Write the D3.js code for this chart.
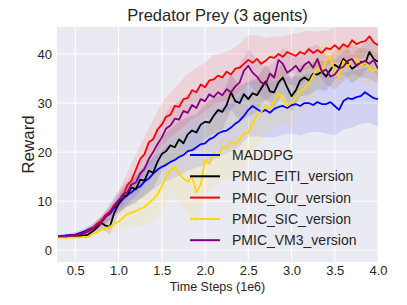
<!DOCTYPE html>
<html>
<head>
<meta charset="utf-8">
<script src="https://cdn.jsdelivr.net/npm/d3@7"></script>
<style>
body { margin: 0; background: #fff; }
text { font-family: "Liberation Sans", Arial, sans-serif; fill: #262626; }
</style>
</head>
<body>
<div id="chart"></div>
<script>
// series, in legend order
var names = ['MADDPG', 'PMIC_EITI_version', 'PMIC_Our_version', 'PMIC_SIC_version', 'PMIC_VM3_version'];
var colors = ['#0000ff', '#000000', '#ff0000', '#ffd700', '#800080'];

// x grid: 0.30 .. 4.00 every 0.05 (1e6 steps)
var timeSteps = d3.range(75).map(function (i) { return +(0.3 + 0.05 * i).toFixed(2); });
var xTicks = [0.5, 1.0, 1.5, 2.0, 2.5, 3.0, 3.5, 4.0];
var yTicks = [0, 10, 20, 30, 40];

var maddpg = [2.8, 2.9, 3.0, 3.1, 3.2, 3.5, 3.8, 4.2, 4.6, 5.2, 5.8, 6.8, 7.4, 8.6, 9.4,
    10.4, 11.2, 11.8, 12.6, 13.0, 14.0, 14.6, 15.6, 16.4, 17.0, 17.4, 18.0, 18.4, 19.0, 19.4,
    20.2, 20.4, 21.0, 21.6, 21.8, 22.6, 23.0, 23.8, 24.2, 24.4, 25.0, 25.8, 26.4, 27.4, 28.6,
    29.4, 28.8, 28.2, 28.6, 28.0, 28.8, 29.2, 29.4, 29.0, 29.6, 29.8, 29.4, 30.0, 30.0, 29.6,
    30.2, 29.8, 29.8, 30.2, 29.4, 28.6, 30.4, 31.0, 30.8, 31.2, 31.4, 32.2, 31.6, 31.0, 30.8];
var eiti = [2.8, 2.8, 2.9, 2.8, 2.9, 2.9, 3.0, 3.2, 3.8, 4.6, 5.6, 5.0, 4.8, 7.6, 9.4,
    11.0, 11.2, 12.8, 12.4, 14.4, 14.2, 16.2, 15.8, 18.0, 19.6, 20.2, 21.4, 21.0, 22.6, 21.8,
    23.6, 24.4, 24.0, 25.6, 26.2, 26.0, 27.4, 28.6, 28.2, 29.6, 32.2, 30.4, 30.0, 31.8, 30.8,
    32.0, 31.6, 33.0, 34.4, 32.4, 32.2, 34.2, 35.2, 33.2, 31.4, 32.6, 34.6, 35.2, 34.6, 36.0,
    35.8, 36.4, 35.4, 36.8, 37.8, 37.2, 39.0, 38.2, 37.0, 37.6, 38.4, 38.0, 40.4, 39.0, 38.4];
var ours = [2.8, 2.9, 2.8, 3.0, 3.0, 3.3, 3.5, 4.0, 4.5, 5.4, 6.0, 7.2, 7.9, 9.2, 10.2,
    11.0, 13.2, 14.2, 16.4, 18.6, 19.6, 22.0, 22.6, 24.6, 25.6, 27.2, 27.6, 29.4, 29.2, 30.8,
    31.0, 32.6, 32.2, 33.8, 33.2, 34.6, 34.8, 35.6, 35.2, 36.4, 35.8, 37.0, 37.2, 38.0, 38.8,
    38.2, 39.0, 38.0, 38.6, 39.4, 39.2, 40.0, 39.4, 40.4, 40.0, 39.6, 40.4, 40.0, 41.0, 40.2,
    40.8, 40.2, 41.2, 41.0, 41.8, 41.0, 42.0, 41.4, 42.8, 42.0, 42.4, 42.6, 43.6, 42.4, 41.8];
var sic = [2.5, 2.6, 2.5, 2.6, 2.6, 2.6, 2.7, 2.7, 3.4, 3.6, 4.2, 4.4, 4.8, 5.4, 5.8,
    6.6, 7.4, 7.6, 8.0, 8.4, 8.8, 9.6, 10.4, 11.4, 13.0, 14.8, 16.4, 17.0, 15.6, 14.6,
    14.0, 15.0, 11.8, 13.4, 18.4, 17.6, 20.0, 19.0, 21.0, 20.8, 22.0, 21.6, 22.6, 23.8, 24.0,
    25.8, 27.6, 28.2, 29.6, 28.6, 30.4, 32.0, 31.0, 29.4, 30.0, 31.0, 32.4, 33.0, 34.0, 35.6,
    37.0, 36.4, 38.6, 39.4, 36.4, 35.2, 38.6, 37.4, 38.8, 39.0, 37.8, 38.2, 37.0, 36.4, 38.0];
var vm3 = [2.8, 2.9, 2.8, 3.0, 3.0, 3.2, 3.4, 3.8, 4.3, 5.0, 5.6, 6.8, 7.6, 9.0, 10.0,
    11.4, 11.8, 13.4, 13.8, 15.6, 16.6, 18.6, 20.0, 21.6, 23.0, 24.8, 25.4, 26.8, 26.6, 28.4,
    28.0, 29.6, 29.0, 30.8, 30.4, 31.8, 31.2, 32.2, 31.6, 32.8, 32.2, 33.4, 34.2, 36.6, 37.6,
    36.2, 35.4, 34.2, 33.8, 36.0, 35.2, 38.8, 38.0, 36.2, 36.8, 37.6, 36.4, 37.8, 38.4, 37.2,
    39.0, 36.4, 36.8, 35.4, 35.8, 37.0, 37.4, 38.6, 39.0, 37.6, 38.2, 38.6, 38.0, 38.8, 37.0];

// shaded spread (half width), every 0.1 from 0.3 to 4.0
var maddpgSpread = [0.3, 0.4, 0.5, 0.6, 0.8, 1.0, 1.4, 1.8, 2.2, 2.6, 3.0, 3.2, 3.4, 3.6, 3.8, 4.0, 4.2, 4.4, 4.6,
    4.8, 5.0, 5.2, 5.4, 5.6, 5.6, 5.8, 5.8, 5.8, 6.0, 6.0, 6.0, 6.0, 6.0, 5.8, 5.8, 5.6, 5.6, 5.6];
var eitiSpread = [0.3, 0.3, 0.4, 0.5, 0.8, 1.2, 1.6, 2.0, 2.4, 2.8, 3.0, 3.2, 3.4, 3.4, 3.6, 3.6, 3.6, 3.6, 3.6,
    3.6, 3.6, 3.6, 3.6, 3.4, 3.4, 3.4, 3.2, 3.2, 3.2, 3.0, 3.0, 3.0, 3.0, 3.0, 3.0, 3.0, 3.0, 3.0];
var oursSpread = [0.3, 0.4, 0.5, 0.6, 0.8, 1.0, 1.5, 2.0, 2.6, 3.2, 3.6, 4.0, 4.4, 4.6, 4.8, 5.0, 5.0, 5.0, 5.0,
    5.0, 5.0, 5.0, 5.0, 4.8, 4.6, 4.4, 4.2, 4.0, 4.0, 3.8, 3.8, 3.6, 3.6, 3.6, 3.4, 3.4, 3.4, 3.4];
var sicSpread = [0.3, 0.3, 0.4, 0.5, 0.8, 1.2, 1.6, 2.0, 2.6, 3.2, 3.8, 4.4, 5.0, 5.6, 6.0, 6.4, 6.8, 7.0, 7.0,
    7.0, 7.0, 6.8, 6.6, 6.4, 6.0, 5.6, 5.2, 5.0, 4.6, 4.4, 4.2, 4.0, 4.0, 3.8, 3.8, 3.6, 3.6, 3.6];
var vm3Spread = [0.3, 0.3, 0.4, 0.5, 0.8, 1.2, 1.6, 2.0, 2.4, 2.8, 3.2, 3.4, 3.6, 3.8, 3.8, 3.8, 3.8, 3.8, 3.8,
    3.6, 3.6, 3.6, 3.4, 3.4, 3.4, 3.2, 3.2, 3.2, 3.0, 3.0, 3.0, 3.0, 3.0, 3.0, 3.0, 3.0, 3.0, 3.0];

var seriesValues = [maddpg, eiti, ours, sic, vm3];
var seriesSpread = [maddpgSpread, eitiSpread, oursSpread, sicSpread, vm3Spread];

/////////////////////////////
// layout
/////////////////////////////
var width = 407, height = 305;
var plot = { left: 57, right: 378, top: 27, bottom: 262 };

var svg = d3.select('#chart').append('svg')
    .attr('width', width)
    .attr('height', height);

var x = d3.scaleLinear().domain([0.3, 4.0]).range([plot.left + 1, plot.right]);
var y = d3.scaleLinear().domain([-2.4, 45.5]).range([plot.bottom, plot.top]);

svg.append('rect')
    .attr('x', plot.left).attr('y', plot.top)
    .attr('width', plot.right - plot.left)
    .attr('height', plot.bottom - plot.top)
    .attr('fill', '#eaeaf2');

svg.append('clipPath').attr('id', 'clip')
    .append('rect')
    .attr('x', plot.left).attr('y', plot.top)
    .attr('width', plot.right - plot.left)
    .attr('height', plot.bottom - plot.top);

// grid
var grid = svg.append('g');
grid.selectAll('.vx').data(xTicks).enter().append('line')
    .attr('x1', function (d) { return x(d); }).attr('x2', function (d) { return x(d); })
    .attr('y1', plot.top).attr('y2', plot.bottom)
    .attr('stroke', '#fff').attr('stroke-width', 1);
grid.selectAll('.hy').data(yTicks).enter().append('line')
    .attr('x1', plot.left).attr('x2', plot.right)
    .attr('y1', function (d) { return y(d); }).attr('y2', function (d) { return y(d); })
    .attr('stroke', '#fff').attr('stroke-width', 1);

// axes (labels only)
var xAxis = svg.append('g')
    .attr('transform', 'translate(0,' + plot.bottom + ')')
    .call(d3.axisBottom(x).tickValues(xTicks).tickFormat(d3.format('.1f')).tickSize(0).tickPadding(4));
var yAxis = svg.append('g')
    .attr('transform', 'translate(' + plot.left + ',0)')
    .call(d3.axisLeft(y).tickValues(yTicks).tickFormat(d3.format('d')).tickSize(0).tickPadding(5));
[xAxis, yAxis].forEach(function (a) {
    a.select('.domain').remove();
    a.selectAll('text')
        .attr('font-family', '"Liberation Sans", Arial, sans-serif')
        .attr('font-size', 13)
        .attr('fill', '#262626');
});

// series
var marks = svg.append('g').attr('clip-path', 'url(#clip)');
var line = d3.line()
    .x(function (d) { return x(d[0]); })
    .y(function (d) { return y(d[1]); });
var band = d3.area()
    .x(function (d) { return x(d[0]); })
    .y0(function (d) { return y(d[1] - d[2]); })
    .y1(function (d) { return y(d[1] + d[2]); });

seriesValues.forEach(function (vals, k) {
    var spread = seriesSpread[k];
    var bandData = spread.map(function (s, i) {
        return [timeSteps[i * 2], vals[i * 2], s];
    });
    marks.append('path')
        .datum(bandData)
        .attr('d', band)
        .attr('fill', colors[k])
        .attr('fill-opacity', 0.1)
        .attr('stroke', 'none');
});
seriesValues.forEach(function (vals, k) {
    marks.append('path')
        .datum(vals.map(function (v, i) { return [timeSteps[i], v]; }))
        .attr('d', line)
        .attr('fill', 'none')
        .attr('stroke', colors[k])
        .attr('stroke-width', 1.8)
        .attr('stroke-linejoin', 'round');
});

// titles
svg.append('text')
    .attr('x', (plot.left + plot.right) / 2).attr('y', 21)
    .attr('text-anchor', 'middle')
    .attr('font-size', 16.5)
    .text('Predator Prey (3 agents)');
svg.append('text')
    .attr('x', (plot.left + plot.right) / 2).attr('y', 291)
    .attr('text-anchor', 'middle')
    .attr('font-size', 12.5)
    .text('Time Steps (1e6)');
svg.append('text')
    .attr('transform', 'translate(34,' + ((plot.top + plot.bottom) / 2) + ') rotate(-90)')
    .attr('text-anchor', 'middle')
    .attr('font-size', 17)
    .text('Reward');

// legend
var legend = svg.append('g').attr('transform', 'translate(190,155)');
var rows = legend.selectAll('g').data(names).enter().append('g')
    .attr('transform', function (d, i) { return 'translate(0,' + (i * 21.3) + ')'; });
rows.append('line')
    .attr('x1', 0).attr('x2', 30)
    .attr('stroke', function (d, i) { return colors[i]; })
    .attr('stroke-width', 2);
rows.append('text')
    .attr('x', 42).attr('y', 5)
    .attr('font-size', 14)
    .text(function (d) { return d; });
</script>
</body>
</html>
